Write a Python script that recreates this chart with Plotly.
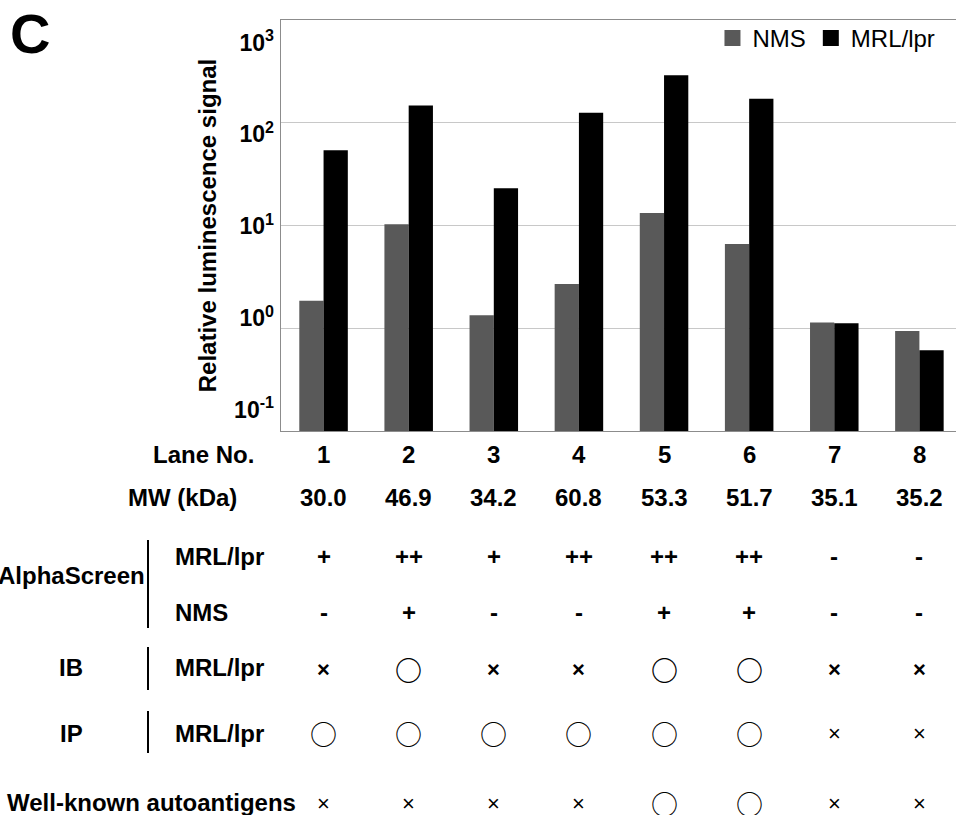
import plotly.graph_objects as go

# ---------------- data ----------------
lanes = [1, 2, 3, 4, 5, 6, 7, 8]
nms = [1.85, 10.3, 1.34, 2.70, 13.2, 6.6, 1.14, 0.94]
mrl = [54, 147, 23, 125, 290, 171, 1.12, 0.61]
y_tickvals = [0.1, 1, 10, 100, 1000]
y_ticktext = ["10<sup>-1</sup>", "10<sup>0</sup>", "10<sup>1</sup>", "10<sup>2</sup>", "10<sup>3</sup>"]

lane_no = ["1", "2", "3", "4", "5", "6", "7", "8"]
mw = ["30.0", "46.9", "34.2", "60.8", "53.3", "51.7", "35.1", "35.2"]
alpha_mrl = ["+", "++", "+", "++", "++", "++", "-", "-"]
alpha_nms = ["-", "+", "-", "-", "+", "+", "-", "-"]
ib_mrl = ["×", "○", "×", "×", "○", "○", "×", "×"]
ip_mrl = ["○", "○", "○", "○", "○", "○", "×", "×"]
known = ["×", "×", "×", "×", "○", "○", "×", "×"]

# ---------------- layout constants ----------------
W, H = 956, 815
L, R, T, B = 281, 0, 20, 384
PW, PH = W - L - R, H - T - B
FONT = "Liberation Sans, Arial, sans-serif"
CJK = "Noto Sans CJK JP"


def px(x):
    return (x - L) / PW


def py(y):
    return (H - B - y) / PH


fig = go.Figure()
fig.add_trace(go.Bar(x=lanes, y=nms, name="NMS", marker=dict(color="#595959", line=dict(width=0)),
                     showlegend=False))
fig.add_trace(go.Bar(x=lanes, y=mrl, name="MRL/lpr", marker=dict(color="#000000", line=dict(width=0)),
                     showlegend=False))
# legend proxies (larger square swatches)
fig.add_trace(go.Scatter(x=[None], y=[None], mode="markers", name="NMS",
                         marker=dict(symbol="square", size=18, color="#595959")))
fig.add_trace(go.Scatter(x=[None], y=[None], mode="markers", name="MRL/lpr",
                         marker=dict(symbol="square", size=18, color="#000000")))
# carrier for the labelled (overlaid) y axis
fig.add_trace(go.Scatter(x=[None], y=[None], yaxis="y2", showlegend=False, hoverinfo="skip"))

ann = []
# panel letter
ann.append(dict(x=px(7.5), y=py(0), xref="paper", yref="paper", text="C", showarrow=False,
                xanchor="left", yanchor="top",
                font=dict(family=FONT, size=56, color="black", weight="bold")))


def row(y, values, size=24, bold=True):
    for i, v in enumerate(values):
        if v == "○":
            f = dict(family=CJK, size=27, color="black", weight="bold" if bold else "normal")
        elif v == "×":
            f = dict(family=FONT, size=22, color="black", weight="bold" if bold else "normal")
        else:
            f = dict(family=FONT, size=size, color="black", weight="bold" if bold else "normal")
        ann.append(dict(x=lanes[i], y=py(y), xref="x", yref="paper", text=v, showarrow=False,
                        xanchor="center", yanchor="middle", font=f))


def label(x, y, text, anchor="left"):
    ann.append(dict(x=px(x), y=py(y), xref="paper", yref="paper", text=text, showarrow=False,
                    xanchor=anchor, yanchor="middle",
                    font=dict(family=FONT, size=24, color="black", weight="bold")))


label(256, 455, "Lane No.", "right")
label(239, 498, "MW (kDa)", "right")
label(147, 575, "AlphaScreen", "right")
label(173, 556, "MRL/lpr")
label(173, 612, "NMS")
label(71, 668, "IB", "center")
label(173, 668, "MRL/lpr")
label(71, 733, "IP", "center")
label(173, 733, "MRL/lpr")
label(5, 802, "Well-known autoantigens")

row(455, lane_no)
row(498, mw)
row(556, alpha_mrl)
row(612, alpha_nms)
row(669, ib_mrl)
row(733, ip_mrl, bold=False)
row(803, known, bold=False)

shapes = []
for y0, y1 in [(540, 628), (647, 690), (711, 753)]:
    shapes.append(dict(type="line", xref="paper", yref="paper", x0=px(148), x1=px(148),
                       y0=py(y0), y1=py(y1), line=dict(color="black", width=2)))

fig.update_layout(
    width=W, height=H,
    margin=dict(l=L, r=R, t=T, b=B),
    paper_bgcolor="white", plot_bgcolor="white",
    barmode="group", bargap=0.43, bargroupgap=0,
    font=dict(family=FONT, color="black"),
    legend=dict(orientation="h", x=0.977, xanchor="right", y=1.01, yanchor="top",
                font=dict(family=FONT, size=24, color="black"), bgcolor="rgba(0,0,0,0)",
                itemwidth=30, tracegroupgap=0),
    xaxis=dict(range=[0.5, 8.43], showticklabels=False, showgrid=False, zeroline=False,
               showline=True, linecolor="#8c8c8c", linewidth=1, mirror=True, ticks=""),
    # scale axis: gridlines at the decades
    yaxis=dict(type="log", range=[-1, 3], tickvals=y_tickvals, showticklabels=False,
               showgrid=True, gridcolor="#c8c8c8", gridwidth=1, zeroline=False,
               showline=True, linecolor="#8c8c8c", linewidth=1, mirror=False, ticks=""),
    # label axis, as typeset in the reference (labels slightly compressed)
    yaxis2=dict(type="log", range=[-1.2285, 3.245], overlaying="y", side="left",
                tickvals=y_tickvals, ticktext=y_ticktext, showgrid=False, zeroline=False,
                showline=False, ticks="", ticklabelstandoff=6,
                tickfont=dict(family=FONT, size=23, color="black", weight="bold"),
                title=dict(text="Relative luminescence signal", standoff=10,
                           font=dict(family=FONT, size=24, color="black", weight="bold"))),
    annotations=ann,
    shapes=shapes,
)

fig.write_html("out.html", config={"displayModeBar": False},
               post_script="document.body.style.margin='0';")
